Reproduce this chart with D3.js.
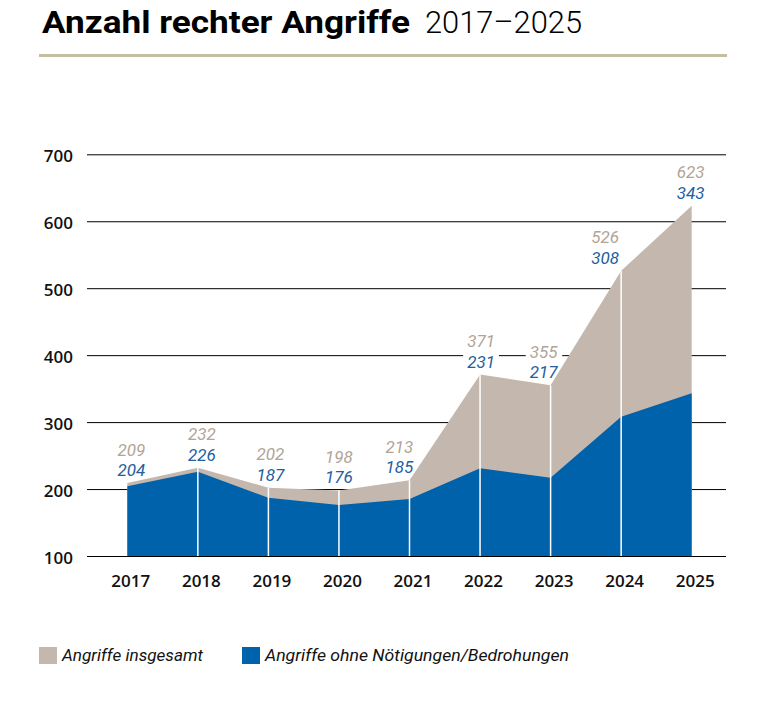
<!DOCTYPE html>
<html>
<head>
<meta charset="utf-8">
<script src="https://cdn.jsdelivr.net/npm/d3@7"></script>
<style>
  html, body { margin: 0; padding: 0; background: #fff; }
  svg { display: block; }
</style>
</head>
<body>
<svg id="chart" width="757" height="707"></svg>
<script>
const years = ["2017", "2018", "2019", "2020", "2021", "2022", "2023", "2024", "2025"];
const totalAttacks = [209, 232, 202, 198, 213, 371, 355, 526, 623];
const withoutThreats = [204, 226, 187, 176, 185, 231, 217, 308, 343];
const yTicks = [100, 200, 300, 400, 500, 600, 700];
const seriesNames = ["Angriffe insgesamt", "Angriffe ohne Nötigungen/Bedrohungen"];
// layout nudges for the value labels (horizontal, px)
const labelNudge = [4, 4, 2, 0, -10, 1, -7, -16, -1];

const colGrey = "#c4b8ae";
const colBlue = "#0062ab";
const colGreyText = "#b1a498";
const colBlueText = "#22609f";

const svg = d3.select("#chart");
const data = years.map((yr, i) => ({ year: yr, total: totalAttacks[i], blue: withoutThreats[i], nudge: labelNudge[i] }));

const x = d3.scalePoint().domain(years).range([127.3, 691.7]);
const y = d3.scaleLinear().domain([100, 700]).range([556, 154.3]);
const gridLeft = 87, gridRight = 726;

// Title
svg.append("text")
  .attr("x", 42).attr("y", 33.3)
  .attr("font-family", "Roboto, 'Liberation Sans', sans-serif")
  .attr("font-weight", 700).attr("font-size", 32)
  .attr("textLength", 368).attr("lengthAdjust", "spacingAndGlyphs")
  .attr("fill", "#000")
  .text("Anzahl rechter Angriffe");
svg.append("text")
  .attr("x", 425).attr("y", 33.3)
  .attr("font-family", "Roboto, 'Liberation Sans', sans-serif")
  .attr("font-weight", 300).attr("font-size", 32)
  .attr("textLength", 157).attr("lengthAdjust", "spacingAndGlyphs")
  .attr("fill", "#000")
  .text("2017–2025");
svg.append("rect")
  .attr("x", 39).attr("y", 54).attr("width", 688).attr("height", 3)
  .attr("fill", "#c3c0a0");

// Y axis with gridlines
const yAxis = svg.append("g")
  .attr("transform", `translate(${gridLeft},0)`)
  .call(d3.axisLeft(y).tickValues(yTicks).tickSize(-(gridRight - gridLeft)).tickPadding(14).tickFormat(d3.format("d")));
yAxis.select(".domain").remove();
yAxis.selectAll(".tick line").attr("stroke", "#000").attr("stroke-width", 1);
yAxis.selectAll(".tick text")
  .attr("font-family", "'Open Sans', sans-serif")
  .attr("font-weight", 600).attr("font-size", 17)
  .attr("fill", "#111").attr("dy", "0.45em");

// X axis labels
const xAxis = svg.append("g")
  .attr("transform", `translate(3,${y(100)})`)
  .call(d3.axisBottom(x).tickSize(0).tickPadding(19));
xAxis.select(".domain").remove();
xAxis.selectAll(".tick text")
  .attr("font-family", "'Open Sans', sans-serif")
  .attr("font-weight", 600).attr("font-size", 17)
  .attr("fill", "#111");

// background masks for labels (drawn under the areas, hide gridlines)
const maskG = svg.append("g");

// Areas
const areaTotal = d3.area().x(d => x(d.year)).y0(y(100)).y1(d => y(d.total));
const areaBlue = d3.area().x(d => x(d.year)).y0(y(100)).y1(d => y(d.blue));
svg.append("path").datum(data).attr("d", areaTotal).attr("fill", colGrey);
svg.append("path").datum(data).attr("d", areaBlue).attr("fill", colBlue);

// White separators at inner years
svg.append("g").selectAll("line").data(data.slice(1, -1)).join("line")
  .attr("x1", d => x(d.year)).attr("x2", d => x(d.year))
  .attr("y1", y(100)).attr("y2", d => y(d.total))
  .attr("stroke", "#fff").attr("stroke-width", 1.5);

// Value labels
const labelFont = "Roboto, 'Liberation Sans', sans-serif";
const lab = svg.append("g");
lab.selectAll("text.tot").data(data).join("text")
  .attr("class", "tot")
  .attr("x", d => x(d.year) + d.nudge)
  .attr("y", d => y(d.total) - 27.5)
  .attr("text-anchor", "middle")
  .attr("font-family", labelFont).attr("font-style", "italic").attr("font-size", 17)
  .attr("fill", colGreyText)
  .text(d => d.total);
lab.selectAll("text.blu").data(data).join("text")
  .attr("class", "blu")
  .attr("x", d => x(d.year) + d.nudge)
  .attr("y", d => y(d.total) - 7)
  .attr("text-anchor", "middle")
  .attr("font-family", labelFont).attr("font-style", "italic").attr("font-size", 17)
  .attr("fill", colBlueText)
  .text(d => d.blue);

lab.selectAll("text").each(function () {
  const b = this.getBBox();
  maskG.append("rect")
    .attr("x", b.x - 4).attr("y", b.y + 1)
    .attr("width", b.width + 8).attr("height", b.height - 2)
    .attr("fill", "#fff");
});

// Legend
const legend = [
  { name: seriesNames[0], color: colGrey, x: 39, len: 141 },
  { name: seriesNames[1], color: colBlue, x: 242, len: 304 }
];
const lg = svg.append("g");
lg.selectAll("rect").data(legend).join("rect")
  .attr("x", d => d.x).attr("y", 647).attr("width", 18).attr("height", 17)
  .attr("fill", d => d.color);
lg.selectAll("text").data(legend).join("text")
  .attr("x", d => d.x + 23).attr("y", 661)
  .attr("font-family", "Roboto, 'Liberation Sans', sans-serif")
  .attr("font-style", "italic").attr("font-size", 17)
  .attr("textLength", d => d.len).attr("lengthAdjust", "spacingAndGlyphs")
  .attr("fill", "#111")
  .text(d => d.name);
</script>
</body>
</html>
